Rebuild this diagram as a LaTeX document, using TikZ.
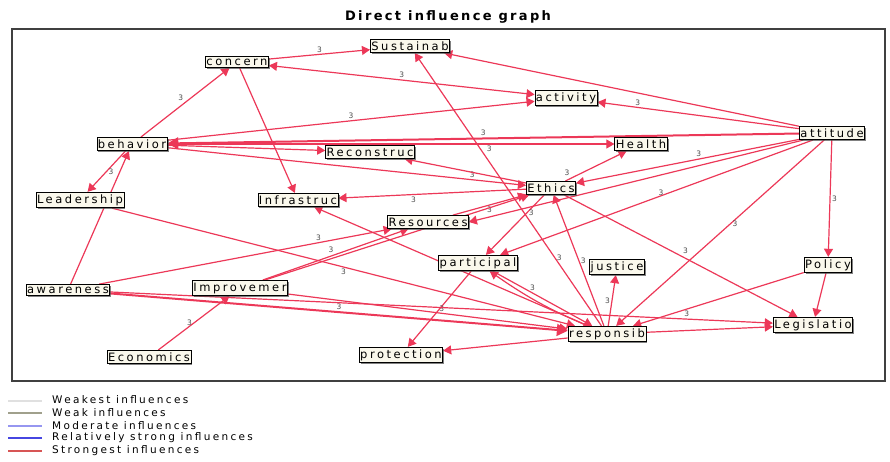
\documentclass[tikz,border=0pt]{standalone}
\usepackage{fontspec}
\setmainfont{DejaVu Sans}
\newfontfamily\spacedfont[LetterSpace=22]{DejaVu Sans}
\newfontfamily\titlefont[LetterSpace=18]{DejaVu Sans}
\usepackage{tikz}
\usetikzlibrary{arrows,shadows,backgrounds}

\definecolor{linkred}{RGB}{236,56,88}
\definecolor{boxfill}{RGB}{250,248,236}
\definecolor{weakgray}{RGB}{160,160,140}
\definecolor{modblue}{RGB}{150,150,240}
\definecolor{strongblue}{RGB}{70,70,225}
\definecolor{topred}{RGB}{215,85,85}

\tikzset{
  factor/.style={draw=black, line width=0.8pt, fill=boxfill, inner xsep=1pt, inner ysep=2.2pt,
    font=\spacedfont\fontsize{11.5}{12}\selectfont,
    drop shadow={shadow xshift=1.5pt, shadow yshift=-1.5pt, fill=black!70, opacity=.7}},
  link/.style={draw=linkred, line width=1.2pt, -triangle 60},
  heavy/.style={line width=2pt},
  wt/.style={font=\fontsize{7.5}{8}\selectfont, text=black!70, inner sep=1.5pt},
  legtext/.style={anchor=west, inner sep=0pt, font=\spacedfont\fontsize{10.5}{11}\selectfont},
}

\begin{document}
\begin{tikzpicture}[x=1pt, y=-1pt]
\useasboundingbox (0,0) rectangle (890,461);

\node[font=\titlefont\bfseries\fontsize{13}{14}\selectfont] (title) at (448,17) {Direct influence graph};
\draw[black!75, line width=1.2pt] (12,29) rectangle (885,381);

\node[factor] (sustain) at (410,46) {Sustainab};
\node[factor] (concern) at (237,62) {concern};
\node[factor] (activity) at (566,98) {activity};
\node[factor] (behavior) at (132,144) {behavior};
\node[factor] (reconstr) at (370,152) {Reconstruc};
\node[factor] (health) at (641,144) {Health};
\node[factor] (attitude) at (832,133) {attitude};
\node[factor] (ethics) at (551,188) {Ethics};
\node[factor] (leader) at (80,200) {Leadership};
\node[factor] (infra) at (298,200) {Infrastruc};
\node[factor] (resources) at (428,222) {Resources};
\node[factor] (particip) at (478,263) {participal};
\node[factor] (justice) at (617,267) {justice};
\node[factor] (policy) at (828,265) {Policy};
\node[factor] (aware) at (68,290) {awareness};
\node[factor] (improve) at (240,288) {Improvemer};
\node[factor] (economics) at (149,357) {Economics};
\node[factor] (protect) at (401,355) {protection};
\node[factor] (respons) at (607,334) {responsib};
\node[factor] (legis) at (813,325) {Legislatio};

\begin{scope}[on background layer]
\draw[link] (concern) -- node[wt,above]{3} (sustain);
\draw[link,triangle 60-triangle 60] (concern) -- node[wt,above]{3} (activity);
\draw[link] (behavior) -- node[wt,above left]{3} (concern);
\draw[link] (behavior) -- node[wt,above]{3} (activity);
\draw[link,heavy] (attitude) -- node[wt,above]{3} (behavior);
\draw[link] (behavior) -- node[wt,pos=.72,below]{3} (health);
\draw[link] (behavior) -- (reconstr);
\draw[link] (behavior) -- node[wt,pos=.85,above]{3} (ethics);
\draw[link] (behavior) -- node[wt,right]{3} (leader);
\draw[link] (aware) -- (behavior);
\draw[link] (concern) -- (infra);
\draw[link] (respons) -- node[wt,pos=.25,right]{3} (sustain);
\draw[link] (attitude) -- (sustain);
\draw[link] (attitude) -- node[wt,pos=.8,above]{3} (activity);
\draw[link] (attitude) -- node[wt,pos=.45,above]{3} (ethics);
\draw[link] (attitude) -- node[wt,pos=.5,above right]{3} (particip);
\draw[link] (attitude) -- (resources.east);
\draw[link] (attitude) -- node[wt,pos=.45,right]{3} (respons);
\draw[link] (attitude) -- node[wt,right]{3} (policy);
\draw[link] (policy) -- (legis);
\draw[link] (ethics) -- node[wt,pos=.1,above left]{3} (health);
\draw[link] (ethics) -- (reconstr);
\draw[link] (ethics) -- node[wt,pos=.6,below]{3} (infra);
\draw[link] (resources) -- node[wt,pos=.5,below]{3} (ethics);
\draw[link] (improve) -- (ethics);
\draw[link] (aware) -- node[wt,pos=.75,above]{3} (resources);
\draw[link] (improve) -- node[wt,pos=.5,above left]{3} (resources);
\draw[link] (ethics) -- node[wt,pos=.5,above right]{3} (legis);
\draw[link] (respons) -- node[wt,pos=.5,right]{3} (ethics);
\draw[link] (ethics) -- node[wt,pos=.3,right]{3} (particip);
\draw[link] (particip) -- (protect);
\draw[link] (respons) -- (infra);
\draw[link] (leader) -- node[wt,pos=.5,below]{3} (respons);
\draw[link,heavy] (aware) -- node[wt,pos=.5,above]{3} (respons);
\draw[link] (improve) -- node[wt,pos=.55,above]{3} (respons);
\draw[link] (aware) -- node[wt,pos=.87,above]{3} (legis);
\draw[link] (economics) -- node[wt,left]{3} (improve);
\draw[link] (respons) to[bend left=6] (particip);
\draw[link] (particip) -- node[wt,pos=.4,above]{3} (respons);
\draw[link] (respons) -- node[wt,left]{3} (justice);
\draw[link] (policy) -- (respons);
\draw[link] (respons) -- (legis);
\draw[link] (respons) -- (protect);
\end{scope}

\draw[black!12, line width=1.2pt] (8,401) -- (42,401);
\node[legtext] (weakest) at (52,400) {Weakest influences};
\draw[weakgray, line width=1.2pt] (8,413) -- (42,413);
\node[legtext] (weak) at (52,413) {Weak influences};
\draw[modblue, line width=1.2pt] (8,426) -- (42,426);
\node[legtext] (moderate) at (52,426) {Moderate influences};
\draw[strongblue, line width=1.8pt] (8,438) -- (42,438);
\node[legtext] (relstrong) at (52,438) {Relatively strong influences};
\draw[topred, line width=1.8pt] (8,451) -- (42,451);
\node[legtext] (strongest) at (52,451) {Strongest influences};

\end{tikzpicture}
\end{document}
